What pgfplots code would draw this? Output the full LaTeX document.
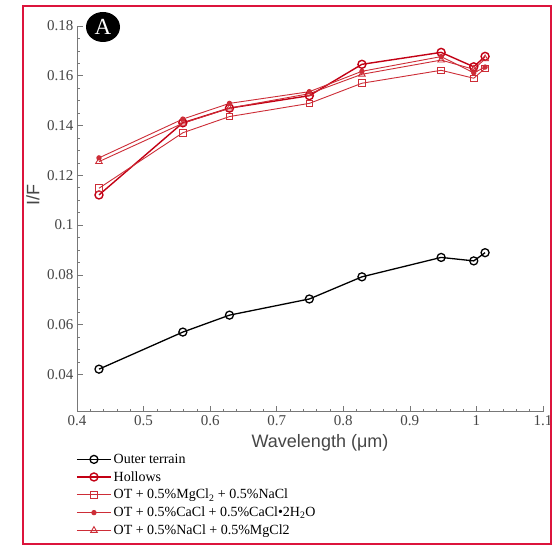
\documentclass[border=0pt]{standalone}
\usepackage{pgfplots}
\pgfplotsset{compat=1.18}
\usepackage{fontspec}
\setmainfont{Liberation Serif}
\newfontfamily\arial{Liberation Sans}
\definecolor{framecol}{RGB}{220,20,60}
\definecolor{hred}{RGB}{195,0,20}
\definecolor{lred}{RGB}{205,45,55}
\definecolor{axgray}{RGB}{120,120,120}
\definecolor{txtgray}{RGB}{70,70,70}
\begin{document}
\begin{tikzpicture}[x=1pt,y=1pt]
\useasboundingbox (0,0) rectangle (552,549);
\fill[white] (0,0) rectangle (552,549);
\begin{axis}[
  at={(77pt,137.3pt)}, anchor=south west,
  scale only axis, width=466pt, height=385.7pt,
  xmin=0.4, xmax=1.1, ymin=0.025, ymax=0.18,
  axis x line*=bottom, axis y line*=left,
  axis line style={axgray, line width=0.8pt},
  tick align=inside,
  xtick={0.4,0.5,0.6,0.7,0.8,0.9,1.0,1.1},
  ytick={0.04,0.06,0.08,0.1,0.12,0.14,0.16,0.18},
  minor x tick num=4, minor y tick num=3,
  major tick length=6pt, minor tick length=3pt,
  every tick/.style={axgray, line width=0.6pt},
  tick label style={font=\fontsize{15}{16}\selectfont, text=txtgray},
  /pgf/number format/assume math mode=true,
  yticklabel style={/pgf/number format/fixed, /pgf/number format/precision=2},
  xticklabel style={/pgf/number format/fixed},
  xlabel={Wavelength (μm)},
  xlabel style={font=\arial\fontsize{18}{20}\selectfont, text=txtgray, at={(axis description cs:0.5215,-0.081)}, anchor=center},
  ylabel={I/F},
  ylabel style={font=\arial\fontsize{18}{20}\selectfont, text=txtgray, at={(axis description cs:-0.0944,0.563)}, anchor=center},
  legend style={at={(axis description cs:-0.002,-0.104)}, anchor=north west, draw=none, fill=none,
    font=\fontsize{14}{16}\selectfont, row sep=2.6pt, inner sep=0pt, cells={anchor=west}},
  legend image code/.code={\draw[mark repeat=2,mark phase=2] plot coordinates {(0pt,0pt) (17pt,0pt) (34pt,0pt)};},
]
\addplot[black, line width=1.3pt, mark=o, mark size=4pt] coordinates {
(0.433,0.0421) (0.559,0.0570) (0.629,0.0638) (0.749,0.0703) (0.828,0.0792) (0.947,0.0870) (0.996,0.0856) (1.013,0.0889)};
\addlegendentry{Outer terrain}
\addplot[hred, line width=1.4pt, mark=o, mark size=4pt] coordinates {
(0.433,0.1121) (0.559,0.1411) (0.629,0.1470) (0.749,0.1520) (0.828,0.1646) (0.947,0.1694) (0.996,0.1636) (1.013,0.1678)};
\addlegendentry{Hollows}
\addplot[lred, line width=0.9pt, mark=square, mark size=3.3pt] coordinates {
(0.433,0.1148) (0.559,0.1371) (0.629,0.1436) (0.749,0.1489) (0.828,0.1570) (0.947,0.1622) (0.996,0.1590) (1.013,0.1630)};
\addlegendentry{OT + 0.5\%MgCl\textsubscript{2} + 0.5\%NaCl}
\addplot[lred, line width=0.9pt, mark=*, mark size=2.2pt] coordinates {
(0.433,0.1270) (0.559,0.1426) (0.629,0.1489) (0.749,0.1536) (0.828,0.1618) (0.947,0.1677) (0.996,0.1612) (1.013,0.1635)};
\addlegendentry{OT + 0.5\%CaCl + 0.5\%CaCl•2H\textsubscript{2}O}
\addplot[lred, line width=0.9pt, mark=triangle, mark size=3.8pt] coordinates {
(0.433,0.1255) (0.559,0.1409) (0.629,0.1470) (0.749,0.1528) (0.828,0.1606) (0.947,0.1663) (0.996,0.1626) (1.013,0.1668)};
\addlegendentry{OT + 0.5\%NaCl + 0.5\%MgCl2}
\end{axis}
\fill[black] (103,522) ellipse [x radius=17, y radius=15];
\node[white, font=\fontsize{23}{23}\selectfont, inner sep=0pt] at (103,522) {A};
\draw[framecol, line width=2pt] (22.5,543) rectangle (550.5,5);
\end{tikzpicture}
\end{document}
